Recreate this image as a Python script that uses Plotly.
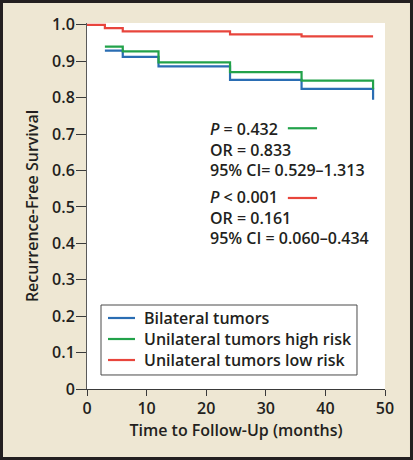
import plotly.graph_objects as go

# ---- data ----
series_names = ["Bilateral tumors", "Unilateral tumors high risk", "Unilateral tumors low risk"]
series_colors = ["#2a6db3", "#22a24a", "#e8453c"]

bilateral_t = [3, 6, 12, 24, 36, 48, 48]
bilateral_s = [0.929, 0.912, 0.886, 0.849, 0.824, 0.824, 0.794]

high_t = [3, 6, 12, 24, 36, 48, 48]
high_s = [0.940, 0.927, 0.897, 0.870, 0.847, 0.847, 0.823]

low_t = [0, 3, 6, 24, 36, 48]
low_s = [1.0, 0.991, 0.982, 0.974, 0.968, 0.968]

x_ticks = [0, 10, 20, 30, 40, 50]
y_ticks = [0, 0.1, 0.2, 0.3, 0.4, 0.5, 0.6, 0.7, 0.8, 0.9, 1.0]
y_ticklabels = ["0", "0.1", "0.2", "0.3", "0.4", "0.5", "0.6", "0.7", "0.8", "0.9", "1.0"]

stats_block1 = ["<i>P</i> = 0.432", "OR = 0.833", "95% CI= 0.529\u20131.313"]
stats_block2 = ["<i>P</i> < 0.001", "OR = 0.161", "95% CI = 0.060\u20130.434"]

FONT = "Open Sans"
TXT = "#231f20"
BG = "#eee7d3"
FS = 16


def fnt(size=FS):
    return dict(family=FONT, size=size, color=TXT, weight=600)


fig = go.Figure()
for t, s, name, col in zip([bilateral_t, high_t, low_t],
                           [bilateral_s, high_s, low_s],
                           series_names, series_colors):
    fig.add_trace(go.Scatter(x=t, y=s, mode="lines", name=name, showlegend=False,
                             line=dict(color=col, width=2.2, shape="hv")))

# stats annotations
ann = []
ys1 = [0.7137, 0.657, 0.601]
ys2 = [0.526, 0.470, 0.414]
for txt, yy in zip(stats_block1 + stats_block2, ys1 + ys2):
    ann.append(dict(x=20.3, y=yy, xref="x", yref="y", text=txt, showarrow=False,
                    xanchor="left", yanchor="middle", font=fnt()))

shapes = [
    dict(type="line", xref="x", yref="y", x0=33.7, x1=38.6, y0=0.716, y1=0.716,
         line=dict(color=series_colors[1], width=2.2)),
    dict(type="line", xref="x", yref="y", x0=33.7, x1=38.6, y0=0.5245, y1=0.5245,
         line=dict(color=series_colors[2], width=2.2)),
    # legend box
    dict(type="rect", xref="paper", yref="paper", x0=0.047, x1=0.906, y0=0.0383, y1=0.2295,
         line=dict(color="#4a4a4a", width=1), fillcolor="white", layer="above"),
    # outer frame
    dict(type="rect", xref="paper", yref="paper", x0=-0.2869, x1=1.0889,
         y0=-0.1899, y1=1.0587, line=dict(color="#231f20", width=3), layer="above"),
]

# manual legend entries
leg_y = [0.194, 0.1366, 0.0792]
for name, col, yy in zip(series_names, series_colors, leg_y):
    shapes.append(dict(type="line", xref="paper", yref="paper", x0=0.0705, x1=0.161,
                       y0=yy, y1=yy, line=dict(color=col, width=2.2), layer="above"))
    ann.append(dict(x=0.185, y=yy, xref="paper", yref="paper", text=name, showarrow=False,
                    xanchor="left", yanchor="middle", font=fnt()))

fig.update_layout(
    width=413, height=460,
    margin=dict(l=87, r=28, t=23, b=71),
    paper_bgcolor=BG, plot_bgcolor="white",
    font=fnt(),
    showlegend=False,
    annotations=ann,
    shapes=shapes,
    xaxis=dict(range=[0, 50], tickvals=x_ticks, showgrid=False, zeroline=False,
               showline=True, linecolor="#3a3a3a", linewidth=1,
               ticks="outside", ticklen=6, tickcolor="#3a3a3a",
               ticklabelstandoff=-1, tickfont=fnt(),
               title=dict(text="Time to Follow-Up (months)", standoff=0, font=fnt()),
               automargin=False),
    yaxis=dict(range=[0, 1.005], tickvals=y_ticks, ticktext=y_ticklabels,
               showgrid=False, zeroline=False,
               showline=True, linecolor="#5a5a5a", linewidth=1,
               ticks="outside", ticklen=10, tickcolor="#3a3a3a", tickfont=fnt(),
               ticklabelstandoff=-2,
               title=dict(text="Recurrence-Free Survival", standoff=9, font=fnt()),
               automargin=False),
)

fig.write_html("out.html", config={"displayModeBar": False},
               post_script="document.body.style.margin='0';document.body.style.overflow='hidden';")
